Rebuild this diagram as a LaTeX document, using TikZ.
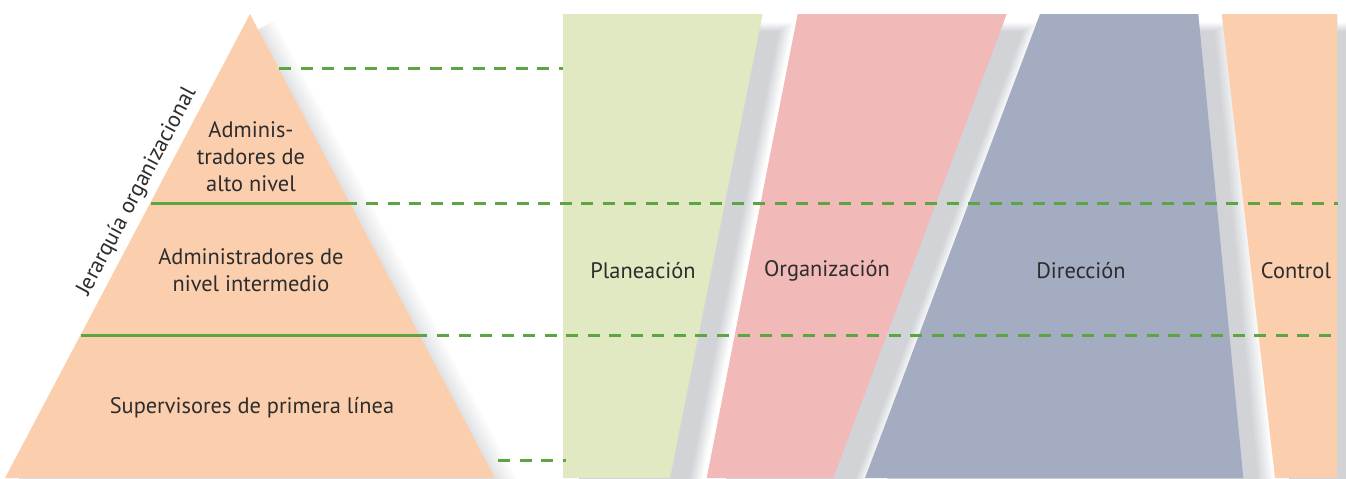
\documentclass[tikz,border=0pt]{standalone}
\usepackage{fontspec}
\setmainfont{PT Sans}
\usepackage{tikz}
\usetikzlibrary{positioning}

\definecolor{peach}{RGB}{251,207,174}
\definecolor{planc}{RGB}{225,233,194}
\definecolor{orgc}{RGB}{241,185,183}
\definecolor{dirc}{RGB}{164,172,193}
\definecolor{shadowc}{RGB}{209,211,215}
\definecolor{linec}{RGB}{93,164,66}
\definecolor{textc}{RGB}{45,45,45}

\tikzset{
  lvl/.style={linec, line width=1.5pt},
  dashline/.style={linec, line width=1.5pt, dash pattern=on 6pt off 4.75pt},
  lbl/.style={text=textc, align=center, inner sep=0pt}
}

\begin{document}
\begin{tikzpicture}[x=0.5pt, y=-0.5pt, font=\fontsize{11.2}{13.5}\selectfont]
    \clip (0,0) rectangle (1346,478);

    % Pyramid with soft shadow
    \foreach \k in {26,25,...,6}{
        \pgfmathtruncatemacro\amt{75*(26-\k)/20}
        \pgfmathsetmacro\dy{6+(26-\k)*0.5}
        \fill[shadowc!\amt!white, shift={(\k,\dy)}] (250,14) -- (495,478) -- (5,478) -- cycle;
    }
    \coordinate (apex) at (250,14);
    \coordinate (pl) at (5,478);
    \coordinate (pr) at (495,478);
    \fill[peach] (apex) -- (pr) -- (pl) -- cycle;

    % Function bands, each with its shadow
    \foreach \tl/\tr/\br/\bl/\col in {563/762.7/670/563/planc, 797.7/1006.7/833.3/706.7/orgc,
                                    1040/1198.3/1243.3/865/dirc, 1221.7/1337.3/1337.3/1275/peach}{
        \foreach \k in {32,31,...,16}{
            \pgfmathtruncatemacro\amt{100*(32-\k)/16}
            \pgfmathsetmacro\dy{8+(32-\k)*0.6}
            \fill[shadowc!\amt!white, shift={(\k,\dy)}] (\tl,14) -- (\tr,14) -- (\br,478) -- (\bl,478) -- cycle;
        }
        \fill[\col] (\tl,14) -- (\tr,14) -- (\br,478) -- (\bl,478) -- cycle;
    }

    % Level lines
    \coordinate (t1) at (279,68);
    \coordinate (t2) at (563,68);
    \coordinate (l1) at (151,203);
    \coordinate (r1) at (357,203);
    \coordinate (d1) at (366,203);
    \coordinate (e1) at (1338,203);
    \coordinate (l2) at (81,335);
    \coordinate (r2) at (427,335);
    \coordinate (d2) at (437,335);
    \coordinate (e2) at (1338,335);
    \coordinate (b1) at (498,460);
    \coordinate (b2) at (566,460);

    \draw[dashline] (t1) -- (t2);
    \draw[lvl] (l1) -- (r1);
    \draw[dashline] (d1) -- (e1);
    \draw[lvl] (l2) -- (r2);
    \draw[dashline] (d2) -- (e2);
    \draw[dashline] (b1) -- (b2);

    % Pyramid labels
    \node[lbl] (top) at (251,157) {Adminis-\\tradores de\\alto nivel};
    \node[lbl] (mid) at (251,270) {Administradores de\\nivel intermedio};
    \node[lbl] (low) at (252,408) {Supervisores de primera línea};
    \path (pl) -- (apex) node[lbl, sloped, above=3pt, pos=0.6] (axis) {Jerarquía organizacional};

    % Band labels
    \node[lbl] (plan) at (643,271) {Planeación};
    \node[lbl] (org) at (827,271) {Organización};
    \node[lbl] (dir) at (1081,271) {Dirección};
    \node[lbl] (ctrl) at (1296,271) {Control};
\end{tikzpicture}
\end{document}
